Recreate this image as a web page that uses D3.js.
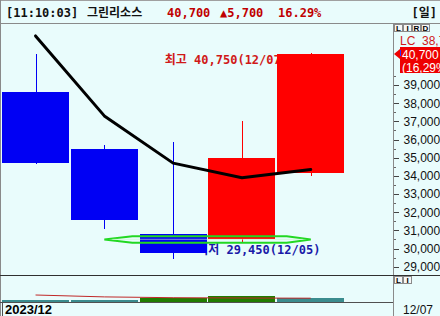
<!DOCTYPE html>
<html><head><meta charset="utf-8">
<script src="https://cdn.jsdelivr.net/npm/d3@7"></script>
<style>
html,body{margin:0;padding:0;background:#e9fcfc;overflow:hidden}
svg{display:block}
</style></head>
<body>
<svg id="c" width="440" height="316"></svg>
<script>
// ---- data ----
const dates = ["12/01","12/04","12/05","12/06","12/07"];
const openV  = [38600, 35500, 30800, 30500, 34150];
const highV  = [40700, 35700, 35850, 37000, 40750];
const lowV   = [34650, 31100, 29450, 30350, 34000];
const closeV = [34700, 31550, 29750, 35000, 40700];
const maV    = [41700, 37300, 34700, 33900, 34350];
const volV   = [250, 250, 440, 640, 400];
const volMaV = [700, 510, 430, 400, 380];
const priceTicks = [29000,30000,31000,32000,33000,34000,35000,36000,37000,38000,39000];
const minorTicks = [29500,30500,31500,32500,33500,34500,35500,36500,37500,38500,39500];
const header = {time:"[11:10:03]", name:"그린리소스", price:"40,700", change:"▲5,700", rate:"16.29%", period:"[일]"};
const highLabel = "최고 40,750(12/07)";
const lowLabel  = "최저 29,450(12/05)";
const lensLevel = 30500;
const lastPrice = 40700;
const lcText = "LC  38,700";
const priceBoxLines = ["40,700", "(16,29%)"];
const bottomLeft = "2023/12";
const bottomRight = "12/07";

// ---- scales ----
const svg = d3.select("#c");
const y = d3.scaleLinear().domain([29000, 39000]).range([266.7, 85]);
const x = d3.scaleBand().domain(dates).range([2, 344.3]).paddingInner(0.025);
const yv = d3.scaleLinear().domain([0, 2700]).range([302, 275]);
const cx = d => x(d) + x.bandwidth() / 2;

const BG = "#e9fcfc";
const BLUE = "#0000f4", RED = "#ff0000";
const mono = "'DejaVu Sans Mono','Noto Sans CJK KR',monospace";
const sans = "'Liberation Sans',Arial,sans-serif";

svg.append("rect").attr("width",440).attr("height",316).attr("fill",BG);

// frame lines
const frame = svg.append("g").attr("shape-rendering","crispEdges").attr("stroke","#8a8a8a").attr("fill","none");
frame.append("line").attr("x1",0).attr("x2",440).attr("y1",0.5).attr("y2",0.5).attr("stroke","#a0a0a0");
frame.append("line").attr("x1",0.5).attr("x2",0.5).attr("y1",0).attr("y2",316);
frame.append("line").attr("x1",0).attr("x2",440).attr("y1",23.5).attr("y2",23.5);
frame.append("line").attr("x1",393.5).attr("x2",393.5).attr("y1",23).attr("y2",316);
frame.append("line").attr("x1",0).attr("x2",440).attr("y1",275.5).attr("y2",275.5).attr("stroke","#303030");
frame.append("line").attr("x1",0).attr("x2",393).attr("y1",302.5).attr("y2",302.5).attr("stroke","#505050");
frame.append("line").attr("x1",2.5).attr("x2",2.5).attr("y1",303).attr("y2",316).attr("stroke","#505050");

// labels under candles
const iHigh = highV.indexOf(d3.max(highV));
const iLow = lowV.indexOf(d3.min(lowV));
svg.append("text").attr("x", cx(dates[iHigh]) - 146).attr("y", y(highV[iHigh]) + 11)
  .attr("font-family", mono).attr("font-size", 12).attr("font-weight","bold").attr("fill","#d01818")
  .attr("xml:space","preserve").text(highLabel);
svg.append("text").attr("x", cx(dates[iLow]) + 24).attr("y", y(lowV[iLow]) - 4.5)
  .attr("font-family", mono).attr("font-size", 12).attr("font-weight","bold").attr("fill","#1a1aa8")
  .attr("xml:space","preserve").text(lowLabel);

// candles
const candles = dates.map((d,i)=>({d, o:openV[i], h:highV[i], l:lowV[i], c:closeV[i]}));
const cg = svg.append("g").attr("shape-rendering","crispEdges");
cg.selectAll("line.w").data(candles).join("line")
  .attr("x1", d => Math.round(cx(d.d)) + 0.5).attr("x2", d => Math.round(cx(d.d)) + 0.5)
  .attr("y1", d => y(d.h)).attr("y2", d => y(d.l))
  .attr("stroke", d => d.c >= d.o ? RED : BLUE).attr("stroke-width",1);
cg.selectAll("rect.b").data(candles).join("rect")
  .attr("x", d => x(d.d)).attr("width", x.bandwidth())
  .attr("y", d => y(Math.max(d.o, d.c))).attr("height", d => Math.abs(y(d.o) - y(d.c)))
  .attr("fill", d => d.c >= d.o ? RED : BLUE);

// green lens highlight
{
  const x0 = cx(dates[1]), x1 = cx(dates[4]), yc = y(lensLevel), h = 3.2;
  const p = d3.path();
  p.moveTo(x0, yc);
  p.lineTo(x0 + 28, yc - h);
  p.lineTo(x1 - 24, yc - h);
  p.lineTo(x1, yc);
  p.lineTo(x1 - 24, yc + h);
  p.lineTo(x0 + 28, yc + h);
  p.closePath();
  svg.append("path").attr("d", p.toString()).attr("fill","none")
    .attr("stroke","#22d822").attr("stroke-width",2);
  svg.append("line").attr("x1", x0 + 8).attr("x2", x1 - 8).attr("y1", yc).attr("y2", yc)
    .attr("stroke","#c8f8c8").attr("stroke-width",1.2).attr("opacity",0.5);
}

// moving average line
svg.append("path").datum(maV)
  .attr("d", d3.line().x((v,i)=>cx(dates[i])).y(v=>y(v)))
  .attr("fill","none").attr("stroke","#000").attr("stroke-width",3)
  .attr("stroke-linejoin","round").attr("stroke-linecap","round");

// right axis
const axis = d3.axisRight(y).tickValues(priceTicks).tickSize(5).tickPadding(5)
  .tickFormat(d3.format(","));
const ag = svg.append("g").attr("transform","translate(393.5,0)").call(axis);
ag.select(".domain").remove();
ag.selectAll(".tick line").attr("stroke","#444").attr("shape-rendering","crispEdges");
ag.selectAll(".tick text").attr("font-family", sans).attr("font-size",12).attr("fill","#111")
  .attr("text-anchor","start");
ag.selectAll("line.minor").data(minorTicks).join("line").attr("class","minor")
  .attr("x1",0).attr("x2",2).attr("y1",d=>Math.round(y(d))+0.5).attr("y2",d=>Math.round(y(d))+0.5)
  .attr("stroke","#666").attr("shape-rendering","crispEdges");

// LIRD buttons
function buttons(letters, x0, y0){
  const g = svg.append("g");
  letters.forEach((t,i)=>{
    g.append("rect").attr("x", x0 + i*9 + 0.5).attr("y", y0 + 0.5).attr("width",8).attr("height",7)
      .attr("fill","#f6f6f6").attr("stroke","#8a8a8a").attr("shape-rendering","crispEdges");
    g.append("text").attr("x", x0 + i*9 + 4.5).attr("y", y0 + 7).attr("text-anchor","middle")
      .attr("font-family", sans).attr("font-weight","bold").attr("font-size",8).attr("fill","#000").text(t);
  });
}
buttons(["L","I","R","D"], 394, 24);
buttons(["L","I"], 394, 276);

svg.append("text").attr("x",400).attr("y",45).attr("font-family",sans).attr("font-size",12)
  .attr("fill","#d01818").attr("xml:space","preserve").text(lcText);

// last price box
{
  const yp = y(lastPrice);
  svg.append("rect").attr("x",400).attr("y", Math.round(yp) - 7).attr("width",40).attr("height",26)
    .attr("fill","#ee0000").attr("shape-rendering","crispEdges");
  svg.append("path").attr("d", `M394,${yp} L400,${yp-5} L400,${yp+5} Z`).attr("fill","#ee0000");
  svg.append("line").attr("x1",400.5).attr("x2",400.5).attr("y1",yp-4).attr("y2",yp+2)
    .attr("stroke","#3030ff").attr("shape-rendering","crispEdges");
  priceBoxLines.forEach((t,i)=>{
    svg.append("text").attr("x",402).attr("y", yp + 4.5 + i*13).attr("font-family",sans)
      .attr("font-size",12).attr("fill","#fff").text(t);
  });
}

// volume panel
const vg = svg.append("g").attr("shape-rendering","crispEdges");
vg.selectAll("rect").data(volV).join("rect")
  .attr("x",(v,i)=>x(dates[i])).attr("width",x.bandwidth())
  .attr("y",v=>yv(v)).attr("height",v=>yv(0)-yv(v))
  .attr("fill",(v,i)=> i>0 && v>volV[i-1] ? "#1f7d00" : "#3a8c8e");
svg.append("path").datum(volMaV)
  .attr("d", d3.line().x((v,i)=>cx(dates[i])).y(v=>yv(v)))
  .attr("fill","none").attr("stroke","#c02828").attr("stroke-width",1);

// header
const hdr = [
  {t:header.time, x:6, c:"#111"},
  {t:header.name, x:87, c:"#111"},
  {t:header.price, x:167, c:"#c00000"},
  {t:header.change, x:220, c:"#c00000"},
  {t:header.rate, x:278, c:"#c00000"},
];
hdr.forEach(h=>svg.append("text").attr("x",h.x).attr("y",17).attr("font-family",mono)
  .attr("font-size",12).attr("font-weight","bold").attr("fill",h.c).text(h.t));
svg.append("text").attr("x",437).attr("y",17).attr("text-anchor","end").attr("font-family",mono)
  .attr("font-size",12).attr("font-weight","bold").attr("fill","#111").text(header.period);

// bottom labels
svg.append("text").attr("x",5).attr("y",314).attr("font-family",sans).attr("font-weight","bold")
  .attr("font-size",13).attr("fill","#000").text(bottomLeft);
svg.append("text").attr("x",403).attr("y",314).attr("font-family",sans)
  .attr("font-size",12).attr("fill","#111").text(bottomRight);
</script>
</body></html>
